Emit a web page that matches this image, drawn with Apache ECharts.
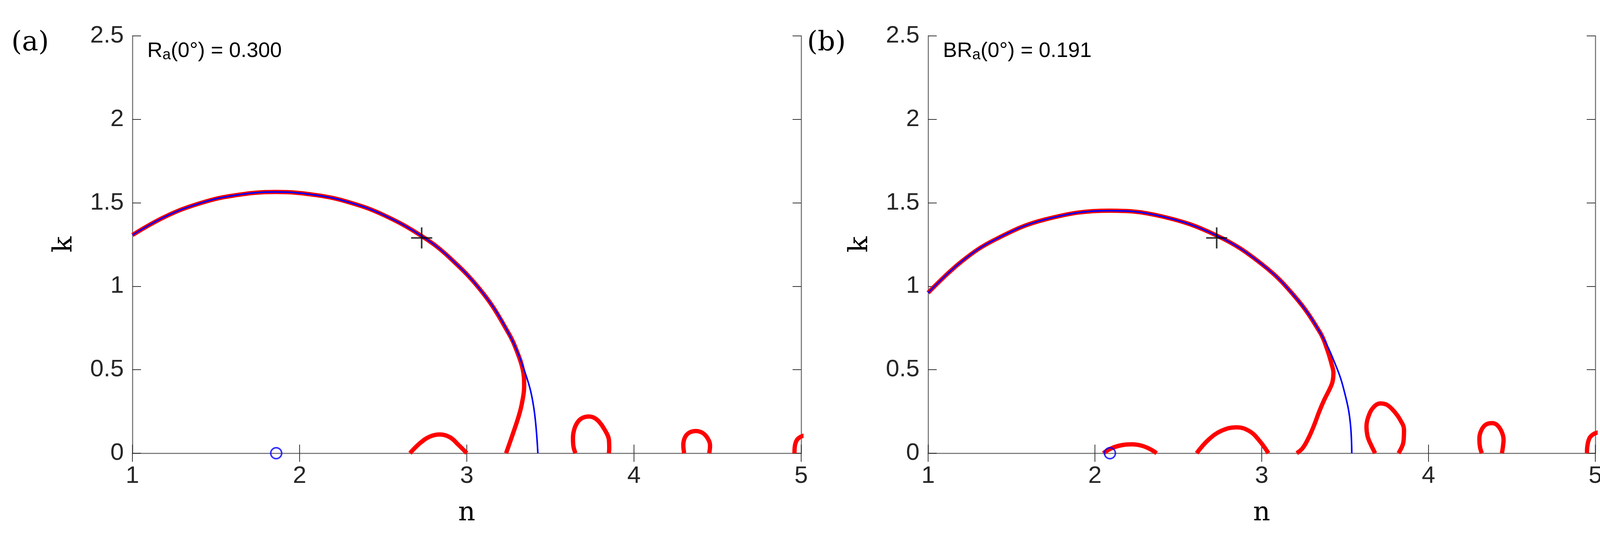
<!DOCTYPE html>
<html>
<head>
<meta charset="utf-8">
<script src="https://cdn.jsdelivr.net/npm/echarts@6/dist/echarts.min.js"></script>
<style>html,body{margin:0;padding:0;background:#fff}#main{width:4127px;height:1368px}</style>
</head>
<body>
<div id="main"></div>
<script>
// panel (a): values
var circleA = [[1.0,1.307],[1.2,1.419],[1.4,1.496],[1.6,1.543],[1.86,1.565],[2.1,1.546],[2.3,1.502],[2.5,1.428],[2.73,1.301],[2.9,1.169],[3.1,0.955],[3.25,0.719],[3.35,0.479],[3.4,0.277],[3.425,0]];
var redMainA = [[1.0,1.307],[1.2,1.419],[1.4,1.496],[1.6,1.543],[1.86,1.565],[2.1,1.546],[2.3,1.502],[2.5,1.428],[2.73,1.301],[2.9,1.169],[3.1,0.955],[3.25,0.719],[3.30,0.61],[3.335,0.5],[3.343,0.40],[3.33,0.30],[3.31,0.22],[3.27,0.1],[3.235,0]];
var redArcsA = [
  [[2.66,0],[2.72,0.06],[2.78,0.1],[2.84,0.112],[2.9,0.095],[2.95,0.05],[3.0,0]],
  [[3.65,0],[3.638,0.04],[3.635,0.09],[3.645,0.15],[3.67,0.195],[3.70,0.215],[3.73,0.22],[3.76,0.213],[3.79,0.19],[3.825,0.14],[3.85,0.08],[3.852,0.03],[3.85,0]],
  [[4.30,0],[4.295,0.05],[4.305,0.095],[4.33,0.123],[4.37,0.133],[4.41,0.122],[4.44,0.09],[4.455,0.045],[4.45,0]],
  [[4.96,0],[4.962,0.04],[4.975,0.08],[5.0,0.1],[5.02,0.105]]
];
var zeroA = [1.86, 0];
// panel (b)
var circleB = [[1.0,0.961],[1.2,1.148],[1.4,1.279],[1.7,1.4],[2.09,1.453],[2.4,1.419],[2.73,1.304],[3.0,1.133],[3.2,0.937],[3.35,0.723],[3.45,0.511],[3.5,0.351],[3.53,0.192],[3.54,0]];
var redMainB = [[1.0,0.961],[1.2,1.148],[1.4,1.279],[1.7,1.4],[2.09,1.453],[2.4,1.419],[2.73,1.304],[3.0,1.133],[3.2,0.937],[3.35,0.723],[3.393,0.62],[3.42,0.53],[3.43,0.48],[3.425,0.43],[3.41,0.39],[3.375,0.32],[3.345,0.25],[3.315,0.17],[3.28,0.09],[3.245,0.03],[3.21,0]];
var redArcsB = [
  [[2.05,0],[2.1,0.03],[2.16,0.048],[2.22,0.053],[2.28,0.045],[2.33,0.025],[2.37,0]],
  [[2.61,0],[2.68,0.08],[2.76,0.135],[2.85,0.155],[2.93,0.13],[2.99,0.07],[3.04,0]],
  [[3.68,0],[3.655,0.05],[3.635,0.1],[3.628,0.16],[3.64,0.22],[3.67,0.275],[3.71,0.298],[3.75,0.29],[3.79,0.255],[3.83,0.2],[3.853,0.14],[3.85,0.07],[3.82,0]],
  [[4.32,0],[4.308,0.04],[4.305,0.09],[4.318,0.14],[4.345,0.172],[4.38,0.18],[4.41,0.17],[4.438,0.13],[4.45,0.08],[4.445,0.03],[4.44,0]],
  [[4.95,0],[4.952,0.04],[4.965,0.09],[4.99,0.115],[5.02,0.125]]
];
var zeroB = [2.09, 0];
var crossPt = [2.73, 1.29];
var labels = ['{t|R}{s|a}{t|(0°) = 0.300}', '{t|BR}{s|a}{t|(0°) = 0.191}'];
var panelTags = ['(a)', '(b)'];

var grids = [
  {left: 339, right: 2076, top: 92, bottom: 207},
  {left: 2376, right: 43, top: 92, bottom: 207}
];
var gray = '#808080';
function xAx(i, pos) {
  return {gridIndex: i, type: 'value', min: 1, max: 5, interval: 1, position: pos,
    name: pos === 'bottom' ? 'n' : '', nameLocation: 'middle', nameGap: 120,
    nameTextStyle: {fontFamily: 'DejaVu Serif', fontSize: 68, color: '#000'},
    axisLine: {show: true, lineStyle: {color: gray, width: 3}},
    axisTick: {show: true, inside: true, length: 22, lineStyle: {color: '#333', width: 2}},
    axisLabel: {show: pos === 'bottom', fontFamily: 'Liberation Sans', fontSize: 62, color: '#262626', margin: 28},
    splitLine: {show: false}};
}
function yAx(i, pos) {
  return {gridIndex: i, type: 'value', min: 0, max: 2.5, interval: 0.5, position: pos,
    name: pos === 'left' ? 'k' : '', nameLocation: 'middle', nameGap: 140, nameRotate: 90,
    nameTextStyle: {fontFamily: 'DejaVu Serif', fontSize: 68, color: '#000'},
    axisLine: {show: true, lineStyle: {color: gray, width: 3}},
    axisTick: {show: true, inside: true, length: 22, lineStyle: {color: '#333', width: 2}},
    axisLabel: {show: pos === 'left', fontFamily: 'Liberation Sans', fontSize: 62, color: '#262626', margin: 22},
    splitLine: {show: false}};
}
var xAxes = [xAx(0,'bottom'), xAx(0,'top'), xAx(1,'bottom'), xAx(1,'top')];
var yAxes = [yAx(0,'left'), yAx(0,'right'), yAx(1,'left'), yAx(1,'right')];

function line(data, xi, yi, color, w) {
  return {type: 'line', xAxisIndex: xi, yAxisIndex: yi, data: data, smooth: 0.4,
    showSymbol: false, symbol: 'none', lineStyle: {color: color, width: w}, clip: true, silent: true};
}
var series = [];
[[circleA, redMainA, redArcsA, zeroA, 0, 0], [circleB, redMainB, redArcsB, zeroB, 2, 2]].forEach(function (p) {
  var xi = p[4], yi = p[5];
  series.push(line(p[1], xi, yi, '#ff0000', 11));
  p[2].forEach(function (a) { series.push(line(a, xi, yi, '#ff0000', 11)); });
  series.push(line(p[0], xi, yi, '#0000ff', 4));
  series.push({type: 'scatter', xAxisIndex: xi, yAxisIndex: yi, data: [p[3]], symbol: 'circle', symbolSize: 28,
    itemStyle: {color: 'rgba(0,0,0,0)', borderColor: '#0000ff', borderWidth: 4}, clip: false, z: 5});
  series.push({type: 'scatter', xAxisIndex: xi, yAxisIndex: yi, data: [crossPt],
    symbol: 'path://M-1,0L1,0M0,-1L0,1', symbolSize: 54,
    itemStyle: {color: 'none', borderColor: '#000', borderWidth: 4}, z: 6});
});

var graphics = [];
[0, 1].forEach(function (i) {
  var gl = grids[i].left;
  graphics.push({type: 'text', left: gl - 310, top: 76, style: {text: panelTags[i], font: '70px "DejaVu Serif"', fill: '#000'}});
  graphics.push({type: 'text', left: gl + 38, top: 104, style: {text: labels[i], fill: '#000',
    rich: {t: {fontFamily: 'Liberation Sans', fontSize: 54, fill: '#000'}, s: {fontFamily: 'Liberation Sans', fontSize: 38, fill: '#000', padding: [22, 0, 0, 0]}}}});
});

var chart = echarts.init(document.getElementById('main'));
chart.setOption({
  backgroundColor: '#fff',
  animation: false,
  grid: grids,
  xAxis: xAxes,
  yAxis: yAxes,
  series: series,
  graphic: graphics
});
</script>
</body>
</html>
